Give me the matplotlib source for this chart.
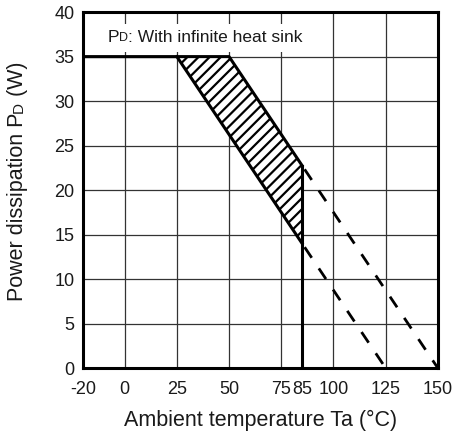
import matplotlib
matplotlib.use("Agg")
import matplotlib.pyplot as plt

plt.rcParams['font.family'] = ['Liberation Sans', 'DejaVu Sans']
plt.rcParams['hatch.linewidth'] = 1.6
plt.rcParams['axes.unicode_minus'] = False

# derating curves (Ta in degC, PD in W)
upper_x = [-20, 50, 85]
upper_y = [35, 35, 22.75]
lower_x = [25, 85]
lower_y = [35, 14]
# extrapolated parts beyond 85 degC
upper_ext_x = [85, 150]
upper_ext_y = [22.75, 0]
lower_ext_x = [85, 125]
lower_ext_y = [14, 0]
# cut-off at 85 degC
cut_x = [85, 85]
cut_y = [0, 22.75]
# hatched band
band_x = [25, 50, 85]
band_lo = [35, 26.25, 14]
band_hi = [35, 35, 22.75]

# ticks with a grid line, and extra labelled ticks without one
xgrid = [0, 25, 50, 75, 100, 125]
xextra = [-20, 85, 150]
yticks = [0, 5, 10, 15, 20, 25, 30, 35, 40]

txt = '#1a1a1a'

fig = plt.figure(figsize=(4.58, 4.33), dpi=100)
ax = fig.add_axes([0.181, 0.150, 0.775, 0.822])

ax.set_xlim(-20, 150)
ax.set_ylim(0, 40)
ax.set_xticks(xgrid)
ax.set_xticks(xextra, minor=True)
ax.set_xticklabels([str(v) for v in xextra], minor=True)
ax.set_yticks(yticks)
ax.tick_params(which='both', length=0, labelsize=13, labelcolor=txt)
ax.tick_params(axis='x', which='both', pad=9)
ax.tick_params(axis='y', pad=6)
ax.grid(which='major', color='#333333', lw=0.9)
for s in ax.spines.values():
    s.set_linewidth(2.2)
    s.set_zorder(5)

ax.fill_between(band_x, band_lo, band_hi, facecolor='white', edgecolor='black',
                hatch='///', lw=0, zorder=3)
ax.plot(upper_x, upper_y, color='black', lw=2.2, zorder=4)
ax.plot(lower_x, lower_y, color='black', lw=2.2, zorder=4)
ax.plot(cut_x, cut_y, color='black', lw=2.2, zorder=4)
ax.plot(upper_ext_x, upper_ext_y, color='black', lw=2, ls=(7.6, (4.6, 4.6)), zorder=4)
ax.plot(lower_ext_x, lower_ext_y, color='black', lw=2, ls=(7.6, (4.6, 4.6)), zorder=4)

# label inside the plot, "D" as a small capital
t1 = ax.text(-8, 36.6, 'P', fontsize=12.5, color=txt, va='baseline', zorder=7)
t2 = ax.annotate('D', xy=(1, 0), xycoords=t1, xytext=(0, 0.8), textcoords='offset points',
                 fontsize=9, color=txt, ha='left', va='bottom', zorder=7)
ax.annotate(': With infinite heat sink', xy=(1, 0), xycoords=t2,
            xytext=(0, -0.8), textcoords='offset points', fontsize=12.5,
            color=txt, ha='left', va='bottom', zorder=3.5,
            bbox=dict(fc='white', ec='none', pad=4.5))

ax.set_xlabel('Ambient temperature Ta (°C)', fontsize=15.5, color=txt, labelpad=9)

# y label built from pieces so that D is a small capital
y1 = fig.text(0.038, 0.305, 'Power dissipation P', fontsize=15.5, color=txt,
              rotation=90, ha='center', va='bottom')
y2 = fig.add_artist(plt.Annotation('D', xy=(1, 1), xycoords=y1, xytext=(-1.2, 0),
                                   textcoords='offset points', fontsize=11, color=txt,
                                   rotation=90, ha='right', va='bottom'))
fig.add_artist(plt.Annotation(' (W)', xy=(1, 1), xycoords=y2, xytext=(1.2, 0),
                              textcoords='offset points', fontsize=15.5, color=txt,
                              rotation=90, ha='right', va='bottom'))

fig.savefig('out.png', dpi=100)
